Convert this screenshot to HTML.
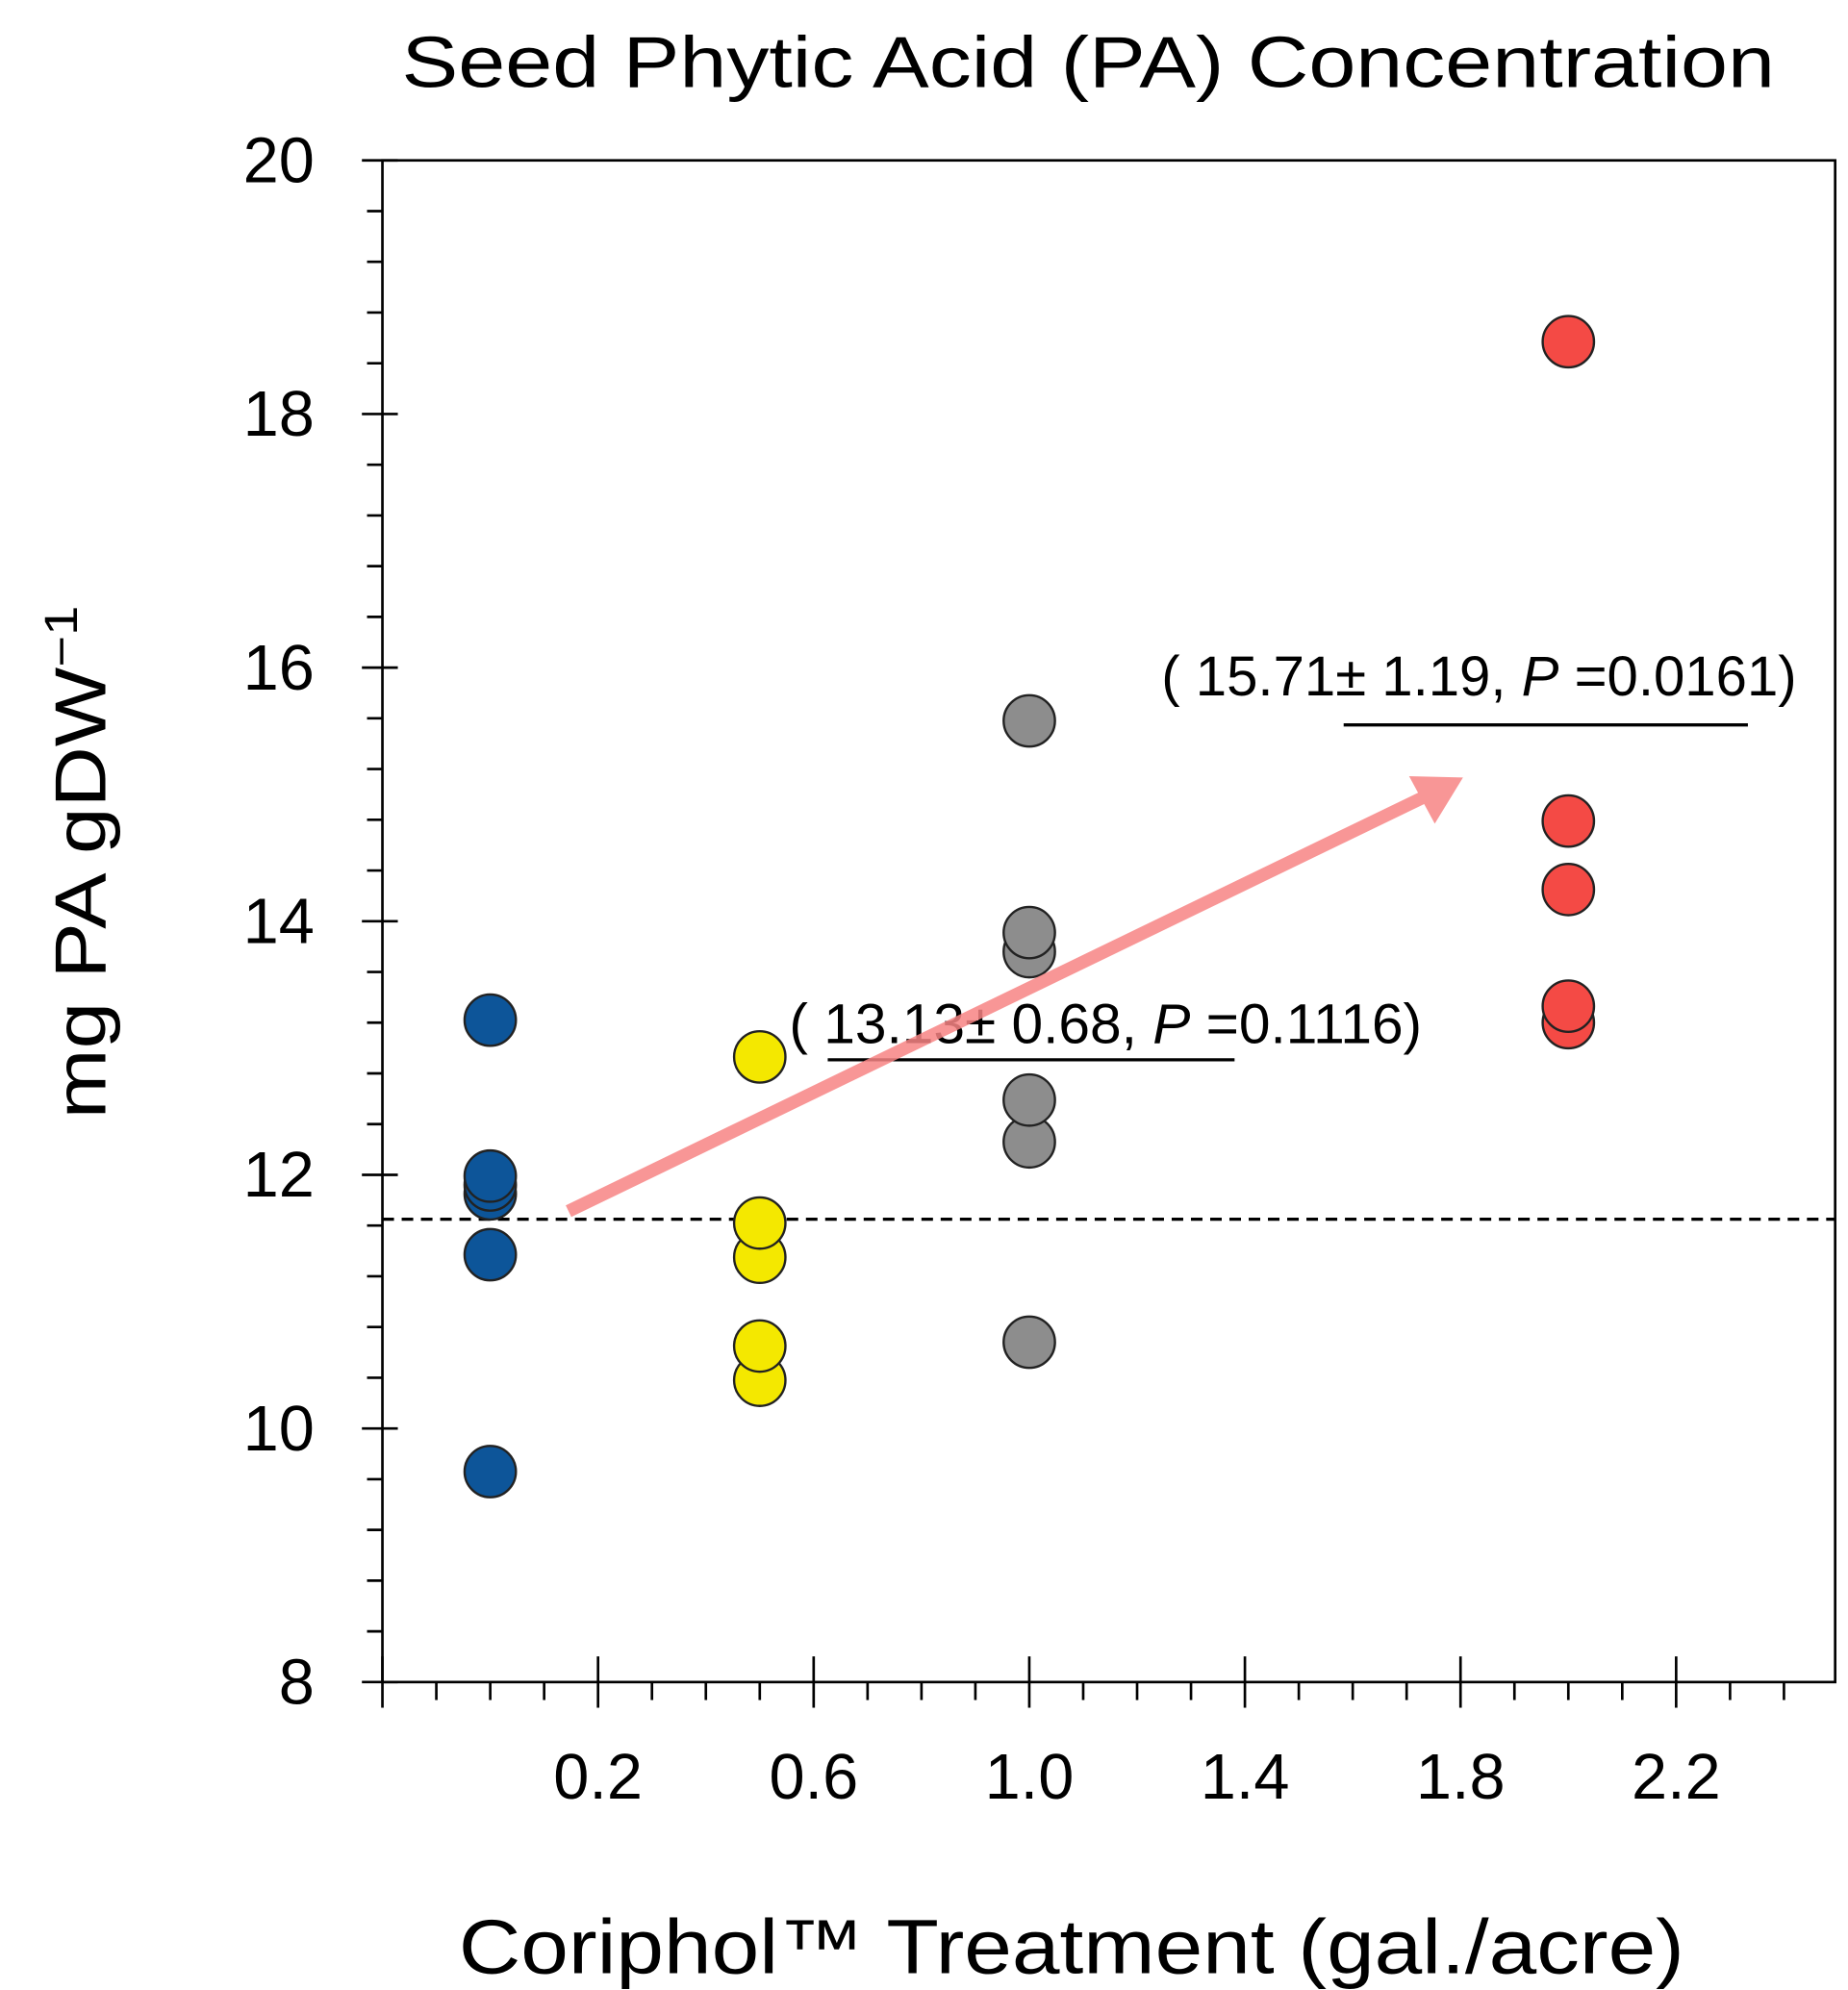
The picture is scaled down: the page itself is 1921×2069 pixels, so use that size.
<!DOCTYPE html>
<html><head><meta charset="utf-8"><style>
html,body{margin:0;padding:0;background:#fff;}
svg{display:block;font-family:"Liberation Sans",sans-serif;}
</style></head><body>
<svg id="chart" width="1921" height="2069" viewBox="0 0 1440 1551" preserveAspectRatio="none" xmlns="http://www.w3.org/2000/svg">
<text x="848" y="68" text-anchor="middle" font-size="56" textLength="1070" lengthAdjust="spacingAndGlyphs">Seed Phytic Acid (PA) Concentration</text>
<text transform="translate(82,672) rotate(-90)" text-anchor="middle" font-size="56" textLength="400" lengthAdjust="spacingAndGlyphs">mg PA gDW<tspan font-size="36" dy="-22">−1</tspan></text>
<text x="835" y="1538" text-anchor="middle" font-size="60" textLength="955" lengthAdjust="spacingAndGlyphs">Coriphol™ Treatment (gal./acre)</text>
<g id="axes"></g>
<g id="marks"></g>
</svg>
<script>
const yTicks=[8,10,12,14,16,18,20];
const xTicks=[0.2,0.6,1.0,1.4,1.8,2.2];
const xTickLabels=["0.2","0.6","1.0","1.4","1.8","2.2"];
const doses=[0,0.5,1.0,2.0];
const colors=["#0d5599","#f4e800","#8d8d8d","#f44a45"];
const blueVals=[13.22,11.99,11.92,11.85,11.37,9.66];
const yellowVals=[12.93,11.62,11.35,10.65,10.38];
const greyVals=[15.58,13.91,13.76,12.59,12.26,10.68];
const redVals=[18.57,14.79,14.25,13.33,13.2];
const baseline=11.65;
const NS="http://www.w3.org/2000/svg";
const L=298,R=1430,T=125,B=1311;
const xMin=-0.2,xMax=2.495,yMin=8,yMax=20;
const xs=v=>L+(v-xMin)/(xMax-xMin)*(R-L);
const ys=v=>B-(v-yMin)/(yMax-yMin)*(B-T);
function mk(tag,attrs,parent){const e=document.createElementNS(NS,tag);for(const k in attrs)e.setAttribute(k,attrs[k]);parent.appendChild(e);return e;}
const ax=document.getElementById('axes');
const mg=document.getElementById('marks');
let f=mk('rect',{x:L,y:T,width:R-L,height:B-T,fill:'none',stroke:'#000','stroke-width':2},ax);


for(let v=yMin;v<=yMax+1e-6;v+=0.4){const y=ys(v);const major=Math.abs(v-Math.round(v/2)*2)<1e-6;
 let t=mk('line',{x1:L-(major?16:12),x2:major?L+12:L,y1:y,y2:y,stroke:'#000','stroke-width':2},ax);
 
 }
yTicks.forEach(v=>{let t=mk('text',{x:245,y:ys(v)+17,'text-anchor':'end','font-size':50},ax);t.textContent=v;
 
 });
for(let i=0;i<=26;i++){const v=xMin+i*0.1;if(v>xMax)break;const x=xs(v);
 const major=xTicks.some(m=>Math.abs(m-v)<1e-6)||i===0;
 let t=mk('line',{x1:x,x2:x,y1:major?B-20:B,y2:B+(major?20:14),stroke:'#000','stroke-width':2},ax);
 
 }
xTicks.forEach((v,i)=>{let t=mk('text',{x:xs(v),y:1402,'text-anchor':'middle','font-size':50},ax);t.textContent=xTickLabels[i];
 
 });
let bl=mk('line',{x1:L,x2:R,y1:ys(baseline),y2:ys(baseline),stroke:'#000','stroke-width':2.5,'stroke-dasharray':'9,6'},mg);


const series=[blueVals,yellowVals,greyVals,redVals];
const names=['dose-0','dose-0-5','dose-1-0','dose-2-0'];
series.forEach((vals,si)=>{vals.slice().reverse().forEach(v=>{
 let c=mk('circle',{cx:xs(doses[si]),cy:ys(v),r:20,fill:colors[si],stroke:'#222','stroke-width':1.8},mg);
 
 });});
function ann(txt1,p,x,y,ux1,ux2,uy,w,nm){
 let t=mk('text',{x:x,y:y,'font-size':44,textLength:w,lengthAdjust:'spacingAndGlyphs'},mg);
 t.innerHTML=txt1+'<tspan font-style="italic">P</tspan> =' + p + ')';
 
 
 let u=mk('line',{x1:ux1,x2:ux2,y1:uy,y2:uy,stroke:'#000','stroke-width':2.5},mg);
 
 }
ann('( 13.13± 0.68, ','0.1116',615,813,645,962,826,493,'annotation-dose-1-0');
ann('( 15.71± 1.19, ','0.0161',905,542,1047,1362,565,495,'annotation-dose-2-0');
let ar=mk('g',{opacity:0.85},mg);


mk('line',{x1:443,y1:944,x2:1112,y2:620,stroke:'#f78484','stroke-width':10},ar);
mk('polygon',{points:'1140,606 1098,605 1118,642',fill:'#f78484'},ar);
</script>
</body></html>
